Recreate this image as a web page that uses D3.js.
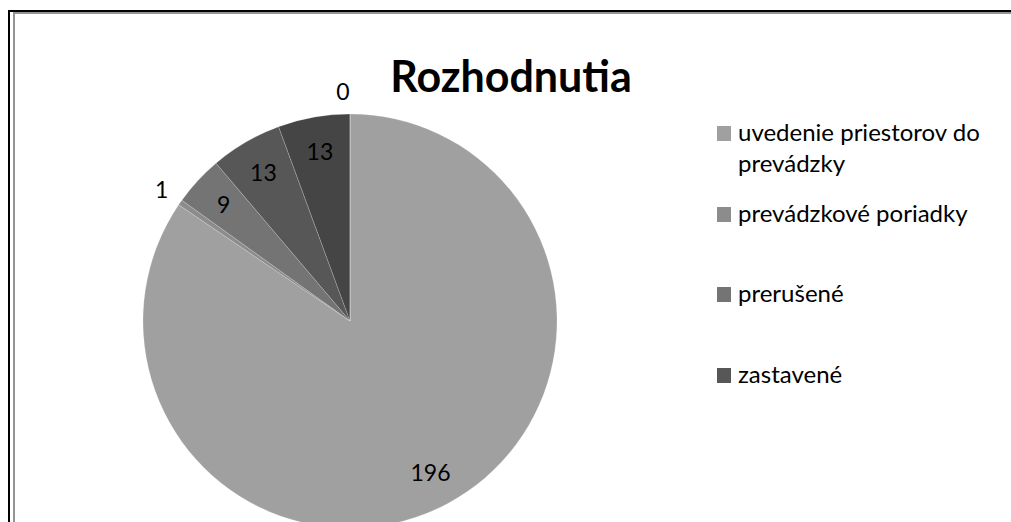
<!DOCTYPE html>
<html>
<head>
<meta charset="utf-8">
<script src="https://cdn.jsdelivr.net/npm/d3@7"></script>
<style>
  html, body { margin: 0; padding: 0; background: #fff; }
  svg { display: block; font-family: Lato, "Open Sans", sans-serif; }
</style>
</head>
<body>
<svg id="chart" width="1011" height="522"></svg>
<script>
'use strict';

var TITLE = 'Rozhodnutia';
// slice categories, only the first four appear in the legend
var categories = ['uvedenie priestorov do prevádzky', 'prevádzkové poriadky', 'prerušené', 'zastavené', 'iné', 'ostatné'];
var values = [196, 1, 9, 13, 13, 0];
var legendLines = [['uvedenie priestorov do', 'prevádzky'], ['prevádzkové poriadky'], ['prerušené'], ['zastavené']];
var colors = ['#a0a0a0', '#8c8c8c', '#747474', '#575757', '#454545', '#333333'];

var W = 1011, H = 522;
var CX = 350, CY = 321, R = 207;

var svg = d3.select('#chart');

// frame: black outer line, grey inner line
svg.append('path').attr('d', 'M9,' + H + 'V11H' + W)
    .attr('fill', 'none').attr('stroke', '#000').attr('stroke-width', 2);
svg.append('path').attr('d', 'M14,' + H + 'V13H' + W)
    .attr('fill', 'none').attr('stroke', '#949494').attr('stroke-width', 2);

// title
svg.append('text').text(TITLE)
    .attr('x', 511).attr('y', 92)
    .attr('text-anchor', 'middle')
    .attr('font-weight', 'bold').attr('font-size', 43).attr('fill', '#000');

var pie = d3.pie().sort(null).value(function (d) { return d; });
var arcs = pie(values);
var arc = d3.arc().innerRadius(0).outerRadius(R);

var g = svg.append('g').attr('transform', 'translate(' + CX + ',' + CY + ')');

g.selectAll('path.slice').data(arcs).enter().append('path')
    .attr('class', 'slice')
    .attr('d', arc)
    .attr('fill', function (d, i) { return colors[i]; })
    .attr('stroke', 'rgba(255,255,255,0.25)')
    .attr('stroke-width', 0.75);

// labels: big slices inside, small slices outside the rim
var inside = d3.arc().innerRadius(R * 0.83).outerRadius(R * 0.83);
var outside = d3.arc().innerRadius(R * 1.11).outerRadius(R * 1.11);

g.selectAll('text.lbl').data(arcs).enter().append('text')
    .attr('class', 'lbl')
    .attr('transform', function (d) {
        var c = (d.value >= 5 ? inside : outside).centroid(d);
        if (d.value === 0) c[0] -= 7;
        return 'translate(' + c[0] + ',' + c[1] + ')';
    })
    .attr('text-anchor', 'middle')
    .attr('dy', '0.36em')
    .attr('font-size', 23)
    .attr('fill', '#000')
    .text(function (d) { return d.value; });

// legend
var legend = svg.append('g').attr('transform', 'translate(717,0)');
var rowY = [141, 222, 302, 383];

var items = legend.selectAll('g.item').data(legendLines).enter().append('g')
    .attr('class', 'item')
    .attr('transform', function (d, i) { return 'translate(0,' + rowY[i] + ')'; });

items.append('rect')
    .attr('x', 0).attr('y', -15).attr('width', 14).attr('height', 15)
    .attr('fill', function (d, i) { return colors[i]; });

items.each(function (lines) {
    var t = d3.select(this).append('text')
        .attr('x', 21).attr('y', 0)
        .attr('font-size', 24).attr('fill', '#000');
    lines.forEach(function (line, k) {
        t.append('tspan').attr('x', 21).attr('y', k * 31).text(line);
    });
});
</script>
</body>
</html>
